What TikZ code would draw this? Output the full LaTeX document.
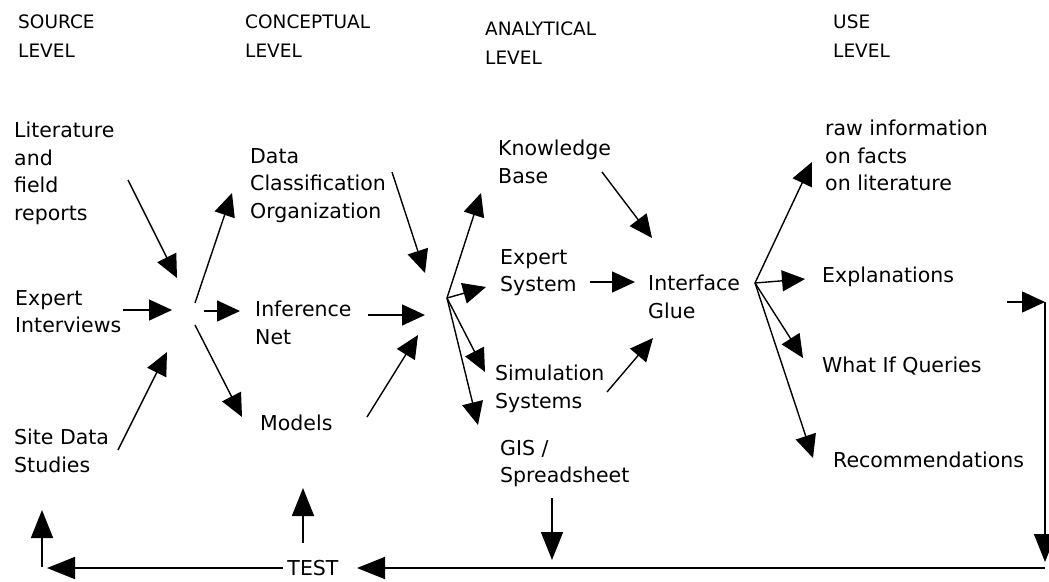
\documentclass[tikz,border=0pt]{standalone}
\usepackage{fontspec}
\setmainfont{DejaVu Sans}
\usetikzlibrary{arrows.meta}
\begin{document}
\begin{tikzpicture}[x=1pt,y=-1pt,
  hdr/.style={anchor=north west,inner sep=0pt,align=left,font=\fontsize{18.5}{29}\selectfont},
  lbl/.style={anchor=north west,inner sep=0pt,align=left,font=\fontsize{20.5}{27.5}\selectfont},
  arr/.style={line width=1.4pt,-{Triangle[length=23pt,width=21pt]}},
  barr/.style={line width=1.6pt,-{Triangle[length=28pt,width=22pt]}},
  ln/.style={line width=1.6pt}]
\useasboundingbox (0,0) rectangle (1049,581);
% headers
\node[hdr] (h1) at (18,14.5) {SOURCE\\LEVEL};
\node[hdr] (h2) at (245,14.5) {CONCEPTUAL\\LEVEL};
\node[hdr] (h3) at (485,21.5) {ANALYTICAL\\LEVEL};
\node[hdr] (h4) at (833,14.5) {USE\\LEVEL};
% source level
\node[lbl] (lit) at (14,122) {Literature\\and\\field\\reports};
\node[lbl] (expint) at (15,290) {Expert\\Interviews};
\node[lbl] (site) at (14,429) {Site Data\\Studies};
% conceptual
\node[lbl] (data) at (250,148) {Data\\Classification\\Organization};
\node[lbl] (inf) at (255,301) {Inference\\Net};
\node[lbl] (models) at (260,415) {Models};
% analytical
\node[lbl] (kb) at (498,140) {Knowledge\\Base};
\node[lbl] (es) at (500,249) {Expert\\System};
\node[lbl] (ig) at (648,275) {Interface\\Glue};
\node[lbl] (sim) at (495,365) {Simulation\\Systems};
\node[lbl] (gis) at (500,440) {GIS /\\Spreadsheet};
% use
\node[lbl] (raw) at (825,120) {raw information\\on facts\\on literature};
\node[lbl] (expl) at (822,267) {Explanations};
\node[lbl] (wif) at (822,357) {What If Queries};
\node[lbl] (rec) at (833,452) {Recommendations};
\node[inner sep=0pt,font=\fontsize{20.5}{24}\selectfont] (test) at (313,568) {TEST};
% coordinates
\coordinate (a1) at (128,180); \coordinate (t1) at (177,278);
\coordinate (a2) at (123,310); \coordinate (t2) at (172,310);
\coordinate (a3) at (118,450); \coordinate (t3) at (167,352);
\coordinate (b4) at (195,303); \coordinate (t4) at (232,193);
\coordinate (b5) at (204,311); \coordinate (t5) at (240,311);
\coordinate (b6) at (195,325); \coordinate (t6) at (242,417);
\coordinate (a7) at (392,172); \coordinate (t7) at (425,273);
\coordinate (a8) at (368,315); \coordinate (t8) at (425,315);
\coordinate (a9) at (367,417); \coordinate (t9) at (418,335);
\coordinate (hub2) at (447,298);
\coordinate (t10) at (481,193); \coordinate (t11) at (486,287);
\coordinate (t12) at (485,372); \coordinate (t13) at (478,425);
\coordinate (a14) at (602,172); \coordinate (t14) at (652,238);
\coordinate (a15) at (590,282); \coordinate (t15) at (635,282);
\coordinate (a16) at (607,392); \coordinate (t16) at (653,338);
\coordinate (hub3) at (755,283);
\coordinate (t17) at (812,162); \coordinate (t18) at (805,279);
\coordinate (t19) at (803,358); \coordinate (t20) at (813,458);
\coordinate (a21) at (1007,302); \coordinate (c1) at (1045,302);
\coordinate (t22) at (1045,562); \coordinate (c2) at (1045,568);
\coordinate (t23) at (357,568); \coordinate (a24) at (283,568);
\coordinate (t24) at (47,568);
\coordinate (a25) at (42,567); \coordinate (t25) at (42,510);
\coordinate (a26) at (303,543); \coordinate (t26) at (303,488);
\coordinate (a27) at (552,498); \coordinate (t27) at (552,560);
% arrows
\draw[arr] (a1) -- (t1);
\draw[arr] (a2) -- (t2);
\draw[arr] (a3) -- (t3);
\draw[arr] (b4) -- (t4);
\draw[arr] (b5) -- (t5);
\draw[arr] (b6) -- (t6);
\draw[arr] (a7) -- (t7);
\draw[arr] (a8) -- (t8);
\draw[arr] (a9) -- (t9);
\draw[arr] (hub2) -- (t10);
\draw[arr] (hub2) -- (t11);
\draw[arr] (hub2) -- (t12);
\draw[arr] (hub2) -- (t13);
\draw[arr] (a14) -- (t14);
\draw[arr] (a15) -- (t15);
\draw[arr] (a16) -- (t16);
\draw[arr] (hub3) -- (t17);
\draw[arr] (hub3) -- (t18);
\draw[arr] (hub3) -- (t19);
\draw[arr] (hub3) -- (t20);
% feedback loop
\draw[arr] (a21) -- (c1);
\draw[barr] (c1) -- (t22);
\draw[barr] (c2) -- (t23);
\draw[barr] (a24) -- (t24);
\draw[barr] (a25) -- (t25);
\draw[barr] (a26) -- (t26);
\draw[barr] (a27) -- (t27);
\end{tikzpicture}
\end{document}
